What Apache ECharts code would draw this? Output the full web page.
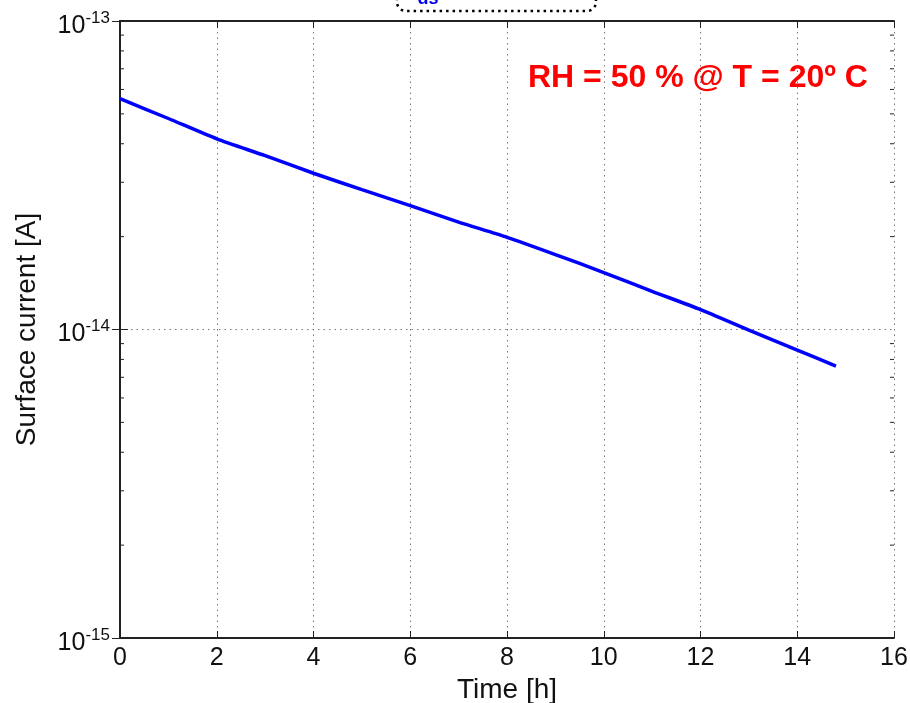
<!DOCTYPE html>
<html>
<head>
<meta charset="utf-8">
<script src="https://cdn.jsdelivr.net/npm/echarts@6/dist/echarts.min.js"></script>
<style>
  html, body { margin: 0; padding: 0; background: #fff; }
  #chart { width: 910px; height: 703px; }
</style>
</head>
<body>
<div id="chart"></div>
<script>
// Measured surface current over time (log scale)
const timeHours = [0, 1, 2, 3, 4, 5, 6, 7, 8, 9, 10, 11, 12, 13, 14, 14.8];
const surfaceCurrent = [
  5.60e-14, 4.83e-14, 4.15e-14, 3.66e-14, 3.21e-14, 2.84e-14, 2.52e-14, 2.23e-14,
  1.99e-14, 1.75e-14, 1.53e-14, 1.33e-14, 1.16e-14, 9.96e-15, 8.58e-15, 7.61e-15
];
const xTicks = [0, 2, 4, 6, 8, 10, 12, 14, 16];
const yDecades = [1e-15, 1e-14, 1e-13];
const yMinorTicks = [
  2e-15, 3e-15, 4e-15, 5e-15, 6e-15, 7e-15, 8e-15, 9e-15,
  2e-14, 3e-14, 4e-14, 5e-14, 6e-14, 7e-14, 8e-14, 9e-14
];
const annotation = 'RH = 50 % @ T = 20º C';

const FONT = '"Liberation Sans", Arial, sans-serif';
const AXIS_COLOR = '#222';
const GRID_LINE = { show: true, lineStyle: { color: '#777', type: [1.5, 4], width: 1 } };

const chart = echarts.init(document.getElementById('chart'), null, { renderer: 'canvas' });

function decadeLabel(v) {
  const e = Math.round(Math.log10(v));
  return '{b|10}{s|' + e + '}';
}

const option = {
  backgroundColor: '#fff',
  animation: false,
  grid: { left: 120, right: 16, top: 21, bottom: 65, containLabel: false, outerBoundsMode: 'none' },
  xAxis: [
    {
      type: 'value', min: xTicks[0], max: xTicks[xTicks.length - 1], interval: 2,
      name: 'Time [h]', nameLocation: 'middle', nameGap: 34,
      nameTextStyle: { fontFamily: FONT, fontSize: 28, color: '#111' },
      axisLine: { show: true, lineStyle: { color: AXIS_COLOR, width: 1.8 } },
      axisTick: { show: true, inside: true, length: 7, lineStyle: { color: AXIS_COLOR, width: 1 } },
      axisLabel: { fontFamily: FONT, fontSize: 25, color: '#111', margin: 8 },
      splitLine: GRID_LINE
    },
    {
      type: 'value', position: 'top', min: xTicks[0], max: xTicks[xTicks.length - 1], interval: 2,
      axisLine: { show: true, lineStyle: { color: AXIS_COLOR, width: 1.8 } },
      axisTick: { show: true, inside: true, length: 7, lineStyle: { color: AXIS_COLOR, width: 1 } },
      axisLabel: { show: false },
      splitLine: { show: false }
    }
  ],
  yAxis: [
    {
      type: 'log', logBase: 10, min: yDecades[0], max: yDecades[yDecades.length - 1],
      name: 'Surface current [A]', nameLocation: 'middle', nameGap: 79, nameRotate: 90,
      nameTextStyle: { fontFamily: FONT, fontSize: 28, color: '#111' },
      axisLine: { show: true, lineStyle: { color: AXIS_COLOR, width: 1.8 } },
      axisTick: { show: true, inside: true, length: 8, lineStyle: { color: AXIS_COLOR, width: 1 } },
      axisLabel: {
        margin: 10,
        formatter: decadeLabel,
        rich: {
          b: { fontFamily: FONT, fontSize: 25, color: '#111', padding: [10, 0, 0, 0] },
          s: { fontFamily: FONT, fontSize: 17, color: '#111', padding: [0, 0, 6, 0] }
        }
      },
      splitLine: GRID_LINE
    },
    {
      type: 'log', logBase: 10, position: 'right', min: yDecades[0], max: yDecades[yDecades.length - 1],
      axisLine: { show: true, lineStyle: { color: AXIS_COLOR, width: 1.8 } },
      axisTick: { show: true, inside: true, length: 8, lineStyle: { color: AXIS_COLOR, width: 1 } },
      axisLabel: { show: false },
      splitLine: { show: false }
    }
  ],
  series: [
    {
      // minor ticks of the log axis on both the left and right frame edges
      type: 'custom',
      xAxisIndex: 0, yAxisIndex: 0,
      silent: true,
      data: yMinorTicks.map(v => [0, v]),
      renderItem: function (params, api) {
        const cs = params.coordSys;
        const y = api.coord([0, api.value(1)])[1];
        const len = 4;
        const style = { stroke: AXIS_COLOR, lineWidth: 1 };
        return {
          type: 'group',
          children: [
            { type: 'line', shape: { x1: cs.x, y1: y, x2: cs.x + len, y2: y }, style: style },
            { type: 'line', shape: { x1: cs.x + cs.width - len, y1: y, x2: cs.x + cs.width, y2: y }, style: style }
          ]
        };
      },
      z: 5
    },
    {
      type: 'line',
      xAxisIndex: 0, yAxisIndex: 0,
      data: timeHours.map((t, i) => [t, surfaceCurrent[i]]),
      showSymbol: false, smooth: 0.2,
      lineStyle: { color: '#0000ff', width: 3.5 },
      z: 10
    }
  ],
  graphic: [
    {
      type: 'text', left: 528, top: 62,
      style: { text: annotation, fontFamily: FONT, fontSize: 32, fontWeight: 'bold', fill: '#ff0000' },
      z: 20
    },
    {
      type: 'rect',
      shape: { x: 397, y: -30, width: 199, height: 41, r: 9 },
      style: { fill: 'none', stroke: '#000', lineWidth: 2.5, lineDash: [2.5, 4] },
      z: 20
    },
    {
      type: 'text', x: 428, y: 8,
      style: { text: 'ds', fontFamily: FONT, fontSize: 18, fontWeight: 'bold', fill: '#0000ee', align: 'center', verticalAlign: 'bottom' },
      z: 20
    }
  ]
};

chart.setOption(option);
</script>
</body>
</html>
